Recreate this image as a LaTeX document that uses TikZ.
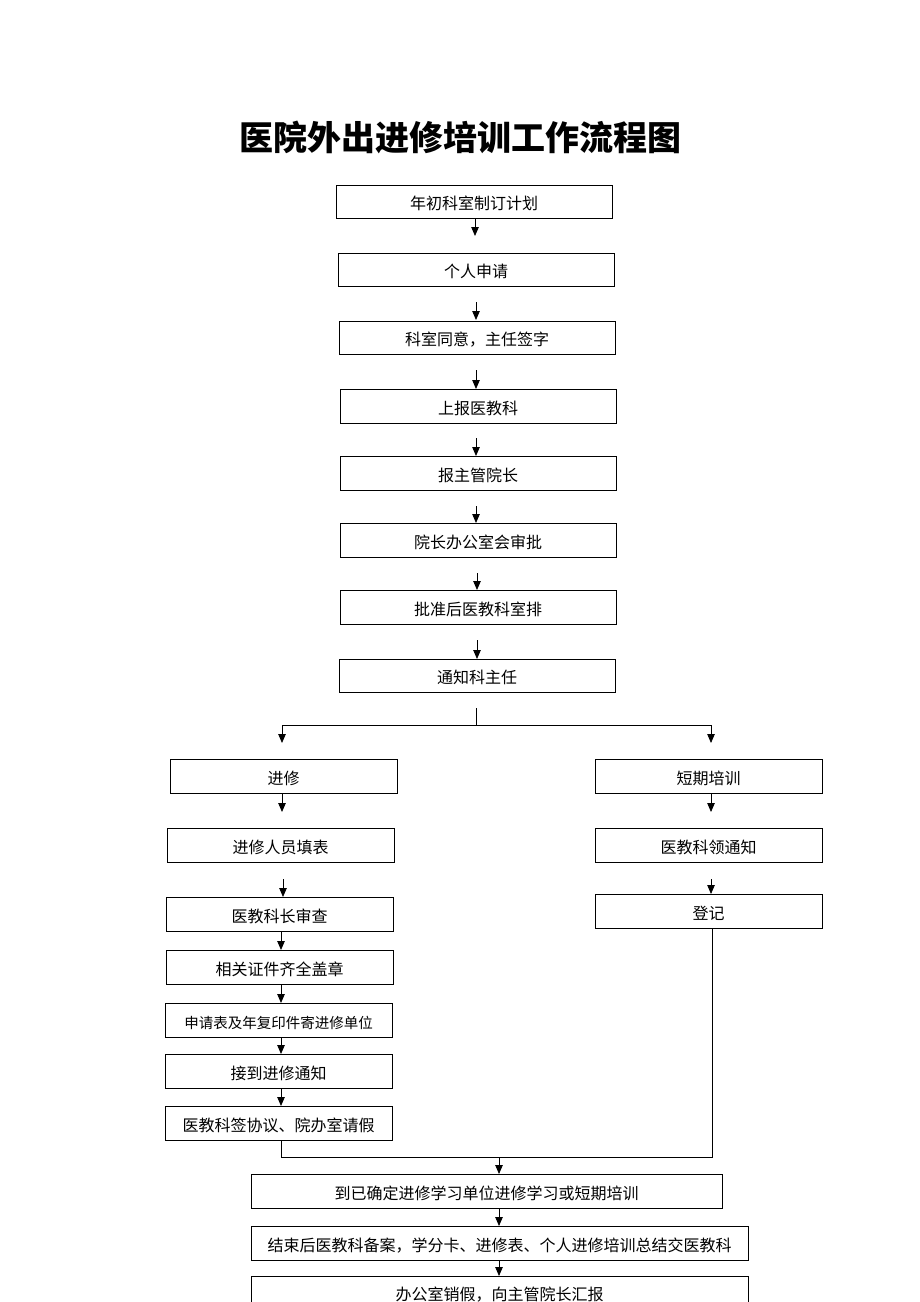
\documentclass[tikz,border=0pt]{standalone}
\usepackage{fontspec}
\setmainfont{Noto Sans CJK SC}
\usetikzlibrary{arrows.meta}
\begin{document}
\begin{tikzpicture}[x=1pt,y=-1pt,
  box/.style={draw, line width=0.8pt, inner sep=0pt, text height=17pt, text depth=1pt, font=\fontsize{16}{18}\selectfont},
  arr/.style={line width=0.8pt, -{Triangle[length=9pt,width=7.5pt]}},
  ln/.style={line width=0.8pt}]
\clip (0,0) rectangle (920,1302);
\fill[white] (0,0) rectangle (920,1302);
\node[font=\fontsize{34}{40}\selectfont\bfseries] (title) at (460,137) {医院外出进修培训工作流程图};
% main column
\node[box, minimum width=276pt, minimum height=33pt] (b1) at (474,201.5) {年初科室制订计划};
\node[box, minimum width=276pt, minimum height=33pt] (b2) at (476,269.5) {个人申请};
\node[box, minimum width=276pt, minimum height=33pt] (b3) at (477,337.5) {科室同意，主任签字};
\node[box, minimum width=276pt, minimum height=34pt] (b4) at (478,406) {上报医教科};
\node[box, minimum width=276pt, minimum height=34pt] (b5) at (478,473) {报主管院长};
\node[box, minimum width=276pt, minimum height=34pt] (b6) at (478,540) {院长办公室会审批};
\node[box, minimum width=276pt, minimum height=34pt] (b7) at (478,607) {批准后医教科室排};
\node[box, minimum width=276pt, minimum height=33pt] (b8) at (477,675.5) {通知科主任};
% left column
\node[box, minimum width=227pt, minimum height=34pt] (l1) at (283.5,776) {进修};
\node[box, minimum width=227pt, minimum height=34pt] (l2) at (280.5,845) {进修人员填表};
\node[box, minimum width=227pt, minimum height=34pt] (l3) at (279.5,914) {医教科长审查};
\node[box, minimum width=227pt, minimum height=34pt] (l4) at (279.5,967) {相关证件齐全盖章};
\node[box, minimum width=227pt, minimum height=34pt, font=\fontsize{14.5}{16}\selectfont] (l5) at (278.5,1020) {申请表及年复印件寄进修单位};
\node[box, minimum width=227pt, minimum height=34pt] (l6) at (278.5,1071) {接到进修通知};
\node[box, minimum width=227pt, minimum height=34pt] (l7) at (278.5,1123) {医教科签协议、院办室请假};
% right column
\node[box, minimum width=227pt, minimum height=34pt] (r1) at (708.5,776) {短期培训};
\node[box, minimum width=227pt, minimum height=34pt] (r2) at (708.5,845) {医教科领通知};
\node[box, minimum width=227pt, minimum height=34pt] (r3) at (708.5,911) {登记};
% bottom
\node[box, minimum width=471pt, minimum height=34pt] (c1) at (486.5,1191) {到已确定进修学习单位进修学习或短期培训};
\node[box, minimum width=497pt, minimum height=34pt] (c2) at (499.5,1243) {结束后医教科备案，学分卡、进修表、个人进修培训总结交医教科};
\node[box, minimum width=497pt, minimum height=40pt, text height=12pt, text depth=4pt] (c3) at (499.5,1296) {办公室销假，向主管院长汇报};
% main arrows
\coordinate (a1) at (475,218);
\draw[arr] (a1) -- (475,236);
\draw[arr, shorten <=16pt] (476,286) -- (476,320);
\draw[arr, shorten <=16pt] (476,354) -- (476,389);
\draw[arr, shorten <=15pt] (476,423) -- (476,456);
\draw[arr, shorten <=16pt] (476,490) -- (476,523);
\draw[arr, shorten <=16pt] (477,557) -- (477,590);
\draw[arr, shorten <=16pt] (477,624) -- (477,659);
% branch
\coordinate (s0) at (476,708);
\coordinate (s1) at (476,725);
\coordinate (sl) at (282,725);
\coordinate (sr) at (711,725);
\draw[ln] (s0) -- (s1);
\draw[ln] (sl) -- (sr);
\draw[arr] (sl) -- (282,743);
\draw[arr] (sr) -- (711,743);
% left arrows
\draw[arr] (282,793) -- (282,812);
\draw[arr, shorten <=17pt] (283,862) -- (283,897);
\draw[arr] (281,931) -- (281,950);
\draw[arr] (281,984) -- (281,1003);
\draw[arr] (281,1037) -- (281,1054);
\draw[arr] (281,1088) -- (281,1106);
% right arrows
\draw[arr] (711,793) -- (711,812);
\draw[arr, shorten <=17pt] (711,862) -- (711,894);
% merge
\coordinate (m1) at (281,1157);
\coordinate (m2) at (712,1157);
\coordinate (mm) at (499,1157);
\draw[ln] (281,1140) -- (m1) -- (m2) -- (712,928);
\draw[arr] (mm) -- (499,1174);
\draw[arr] (499,1208) -- (499,1226);
\draw[arr] (499,1260) -- (499,1276);
\end{tikzpicture}
\end{document}
